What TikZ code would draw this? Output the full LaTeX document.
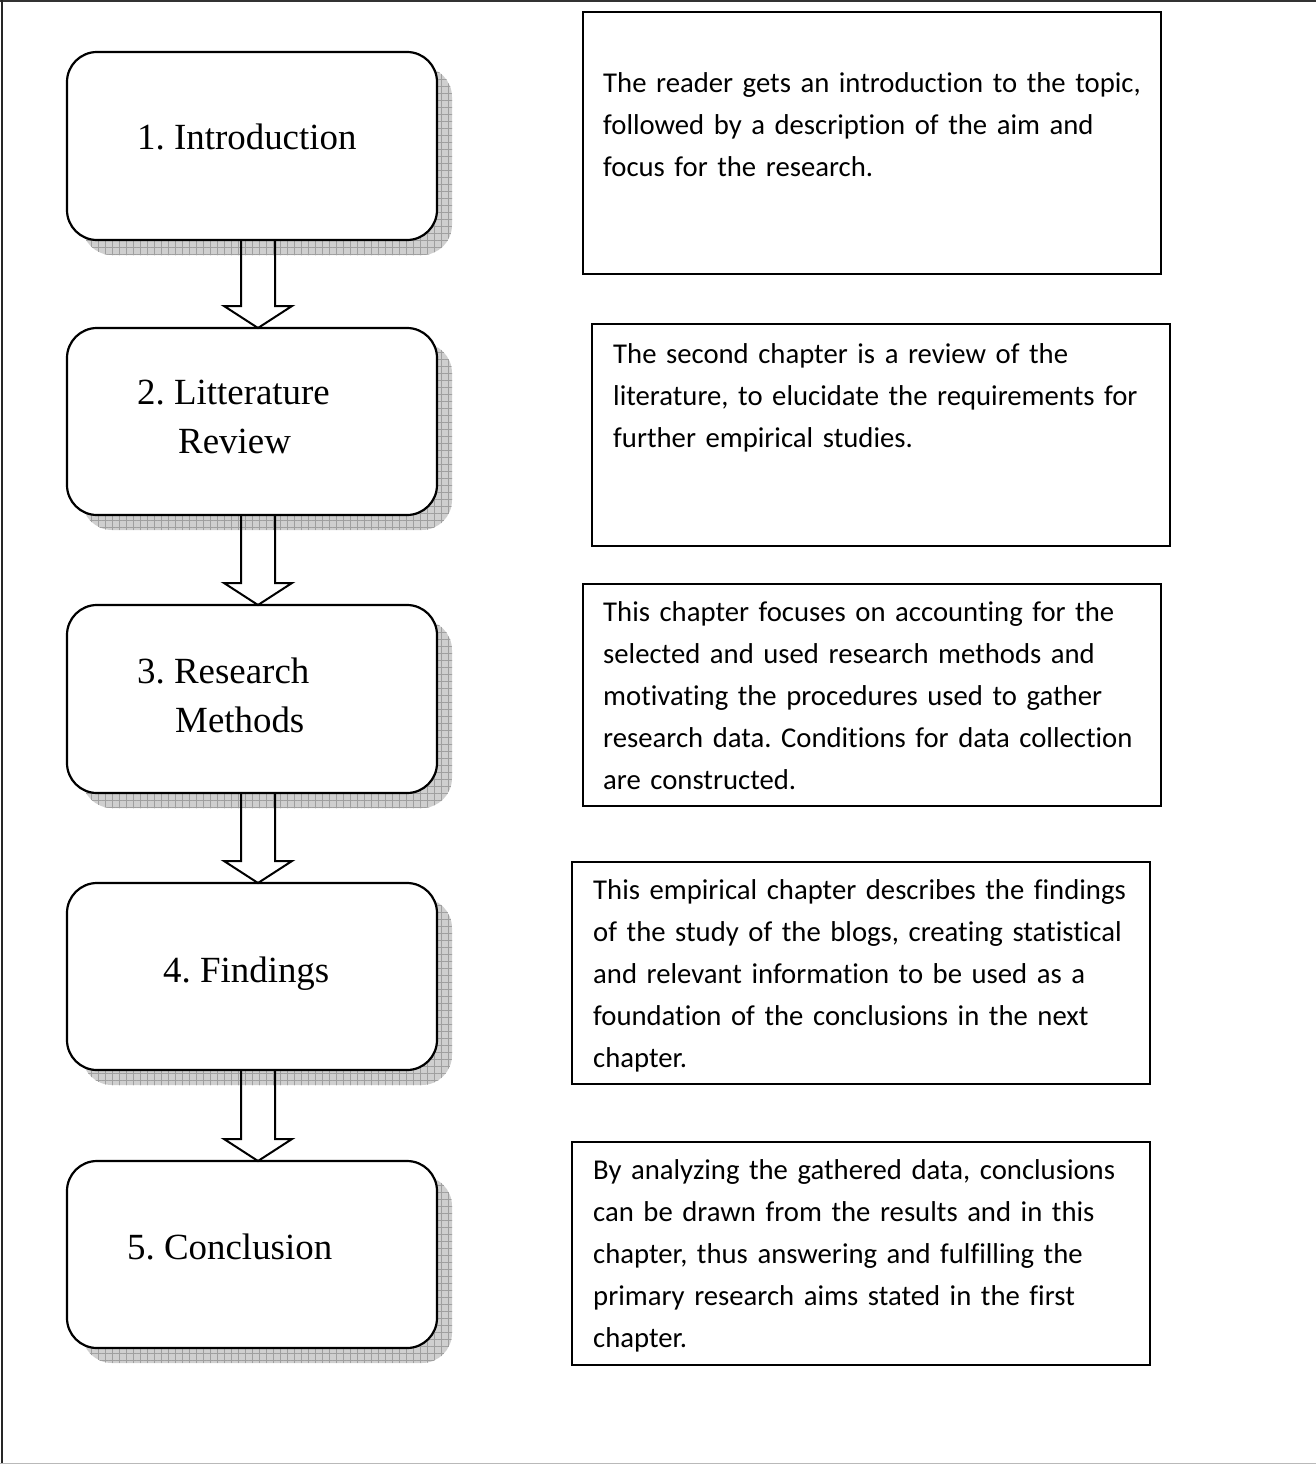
\documentclass[tikz,border=0pt]{standalone}
\usepackage{fontspec}
\setmainfont{Liberation Serif}
\newfontfamily\calfont[Ligatures=NoCommon]{Carlito}
\usetikzlibrary{calc,patterns.meta}
\tikzset{
  chapbox/.style={draw=black, line width=2.2pt, fill=white, rounded corners=30pt,
    minimum width=370pt, inner sep=0pt, outer sep=0pt},
  shadowfill/.style={fill=gray!38, rounded corners=30pt},
  shadowgrid/.style={pattern={Hatch[distance=7pt,angle=0,line width=0.6pt]}, pattern color=gray!75, rounded corners=30pt},
  descbox/.style={draw=black, line width=1.8pt, fill=white, inner sep=0pt, outer sep=0pt},
  chaplabel/.style={font=\frenchspacing\fontsize{36.9}{44}\selectfont, inner sep=0pt, anchor=base west},
  desctext/.style={font=\calfont\frenchspacing\fontsize{28.7}{42}\selectfont, inner sep=0pt, anchor=base west,
    align=left, text width=570pt},
  blockarrow/.style={draw=black, line width=2pt, line join=miter}
}
\begin{document}
\begin{tikzpicture}[x=1pt,y=-1pt]
\useasboundingbox (0,0) rectangle (1316,1465);
% outer frame
\draw[line width=2pt, black!80] (0,1) -- (1316,1);
\draw[line width=2pt, black!85] (2,0) -- (2,1463);
\draw[line width=1.5pt, gray!55] (0,1463.5) -- (1316,1463.5);

% shadows
\foreach \cy/\h in {146/188, 421.5/187, 699/188, 976.5/187, 1254.5/187}{
  \fill[shadowfill] (82,\cy-\h/2+15) rectangle (452,\cy+\h/2+15);
  \fill[shadowgrid] (82,\cy-\h/2+15) rectangle (452,\cy+\h/2+15);
  \begin{scope}
  \clip[rounded corners=30pt] (82,\cy-\h/2+15) rectangle (452,\cy+\h/2+15);
  \fill[pattern={Hatch[distance=7pt,angle=90,line width=0.6pt]}, pattern color=gray!75] (82,\cy-\h/2+15) rectangle (452,\cy+\h/2+15);
  \end{scope}
}

% chapter boxes
\node[chapbox, minimum height=188pt] (c1) at (252,146) {};
\node[chapbox, minimum height=187pt] (c2) at (252,421.5) {};
\node[chapbox, minimum height=188pt] (c3) at (252,699) {};
\node[chapbox, minimum height=187pt] (c4) at (252,976.5) {};
\node[chapbox, minimum height=187pt] (c5) at (252,1254.5) {};

% block arrows
\foreach \a/\b in {c1/c2, c2/c3, c3/c4, c4/c5}{
  \draw[blockarrow] ($(\a.south)+(-11,0)$) -- ($(\b.north)+(-11,-22)$) -- ($(\b.north)+(-28,-22)$)
    -- ($(\b.north)+(6,0)$) -- ($(\b.north)+(40,-22)$) -- ($(\b.north)+(23,-22)$) -- ($(\a.south)+(23,0)$);
}

% chapter labels
\node[chaplabel] (l1) at (137,149) {1. Introduction};
\node[chaplabel] (l2a) at (137,404) {2. Litterature};
\node[chaplabel] (l2b) at (178,453) {Review};
\node[chaplabel] (l3a) at (137,683) {3. Research};
\node[chaplabel] (l3b) at (175,732) {Methods};
\node[chaplabel] (l4) at (163,982) {4. Findings};
\node[chaplabel] (l5) at (127,1259) {5. Conclusion};

% description boxes
\node[descbox, minimum width=578pt, minimum height=262pt] (d1) at (872,143) {};
\node[descbox, minimum width=578pt, minimum height=222pt] (d2) at (881,435) {};
\node[descbox, minimum width=578pt, minimum height=222pt] (d3) at (872,695) {};
\node[descbox, minimum width=578pt, minimum height=222pt] (d4) at (861,973) {};
\node[descbox, minimum width=578pt, minimum height=223pt] (d5) at (861,1253.5) {};

\node[desctext] (t1) at (603,92) {The reader gets an introduction to the topic,\\followed by a description of the aim and\\focus for the research.};
\node[desctext] (t2) at (613,363) {The second chapter is a review of the\\literature, to elucidate the requirements for\\further empirical studies.};
\node[desctext] (t3) at (603,621) {This chapter focuses on accounting for the\\selected and used research methods and\\motivating the procedures used to gather\\research data. Conditions for data collection\\are constructed.};
\node[desctext] (t4) at (593,899) {This empirical chapter describes the findings\\of the study of the blogs, creating statistical\\and relevant information to be used as a\\foundation of the conclusions in the next\\chapter.};
\node[desctext] (t5) at (593,1179) {By analyzing the gathered data, conclusions\\can be drawn from the results and in this\\chapter, thus answering and fulfilling the\\primary research aims stated in the first\\chapter.};
\end{tikzpicture}
\end{document}
